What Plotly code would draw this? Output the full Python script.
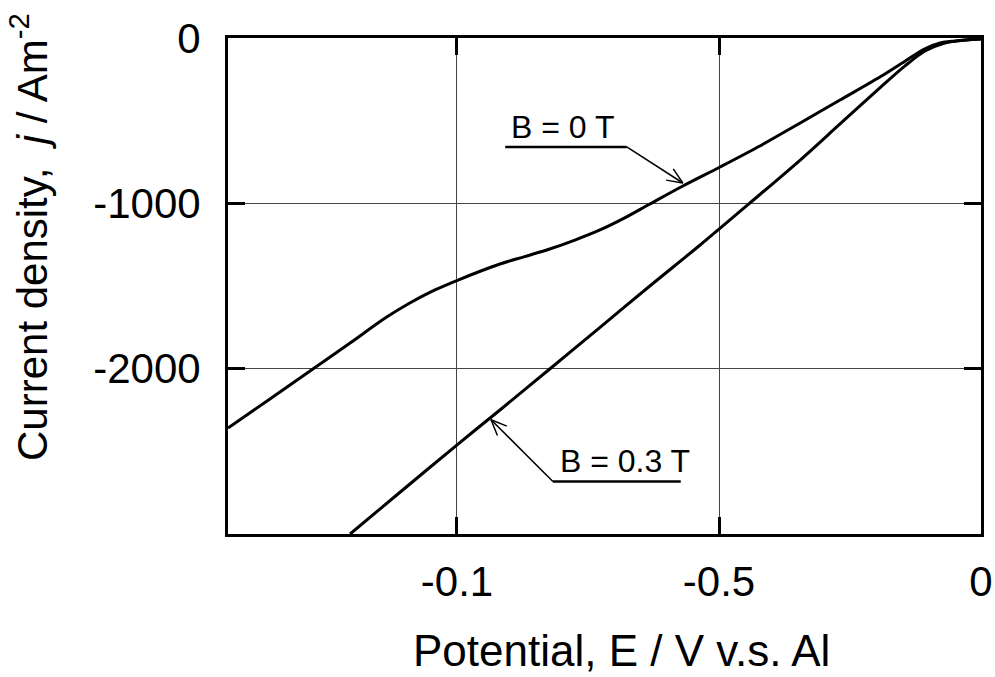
import numpy as np
import plotly.graph_objects as go

# Cathodic polarisation curves: potential (V vs Al) and current density (A m^-2)
potential_b0 = [-1.437, -1.357, -1.275, -1.204, -1.137, -1.090, -1.042, -0.998,
                -0.918, -0.871, -0.823, -0.775, -0.727, -0.680, -0.632, -0.569,
                -0.498, -0.422, -0.345, -0.269, -0.193, -0.145, -0.107, -0.078,
                -0.050, 0.0]
current_b0 = [-2359, -2183, -2002, -1845, -1694, -1603, -1524, -1464,
              -1367, -1322, -1276, -1222, -1161, -1088, -1004, -895,
              -780, -653, -514, -375, -236, -140, -65, -30,
              -18, -6]

potential_b03 = [-1.204, -1.115, -0.998, -0.918, -0.823, -0.727, -0.632, -0.536,
                 -0.441, -0.345, -0.269, -0.193, -0.145, -0.107, -0.069, -0.031,
                 0.0]
current_b03 = [-3000, -2764, -2456, -2250, -2002, -1750, -1500, -1252,
               -998, -738, -520, -302, -169, -79, -30, -12,
               -6]

series_names = ["B = 0 T", "B = 0.3 T"]

x_tick_vals = [-1.0, -0.5, 0.0]
x_tick_text = ["-0.1", "-0.5", "0"]
y_tick_vals = [0, -1000, -2000]
y_tick_text = ["0", "-1000", "-2000"]

x_range = [-1.437, 0.0]
y_range = [-3000, 0]

W, H = 995, 677
M_L, M_R, M_T, M_B = 228, 14, 38, 143
plot_w = W - M_L - M_R
plot_h = H - M_T - M_B
px_per_x = plot_w / (x_range[1] - x_range[0])
px_per_y = plot_h / (y_range[1] - y_range[0])

FONT = "Liberation Sans, Arial, sans-serif"

fig = go.Figure()
for xs, ys, name in [(potential_b0, current_b0, series_names[0]),
                     (potential_b03, current_b03, series_names[1])]:
    fig.add_trace(go.Scatter(x=xs, y=ys, mode="lines", name=name,
                             line=dict(color="black", width=3, shape="spline",
                                       smoothing=0.9),
                             showlegend=False, hoverinfo="x+y"))


def arrow_shapes(x0, y0, x1, y1, head_px=17, spread_deg=23):
    """Leader line from (x0, y0) to (x1, y1) with an open V head at the end."""
    shapes = [dict(type="line", xref="x", yref="y", x0=x0, y0=y0, x1=x1, y1=y1,
                   line=dict(color="black", width=1.5))]
    # direction in screen pixels (y grows downward on screen)
    dx = (x1 - x0) * px_per_x
    dy = -(y1 - y0) * px_per_y
    ang = np.arctan2(-dy, -dx)
    for s in (-1, 1):
        a = ang + s * np.radians(spread_deg)
        wx = x1 + head_px * np.cos(a) / px_per_x
        wy = y1 - head_px * np.sin(a) / px_per_y
        shapes.append(dict(type="line", xref="x", yref="y", x0=x1, y0=y1,
                           x1=wx, y1=wy, line=dict(color="black", width=1.5)))
    return shapes


shapes = []
annotations = []

# label for B = 0 T: underline, leader and arrow onto the curve
ul0 = (-0.908, -0.676, -659)
tip0_x = -0.569
tip0_y = float(np.interp(tip0_x, potential_b0, current_b0)) + 18
shapes.append(dict(type="line", xref="x", yref="y", x0=ul0[0], x1=ul0[1],
                   y0=ul0[2], y1=ul0[2], line=dict(color="black", width=2.5)))
shapes += arrow_shapes(ul0[1], ul0[2], tip0_x, tip0_y)
annotations.append(dict(x=-0.898, y=ul0[2] + 8, xref="x", yref="y",
                        text=series_names[0], showarrow=False, xanchor="left",
                        yanchor="bottom", borderpad=0,
                        font=dict(family=FONT, size=32, color="black")))

# label for B = 0.3 T
ul1 = (-0.817, -0.573, -2683)
tip1_x = -0.935
tip1_y = float(np.interp(tip1_x, potential_b03, current_b03)) - 15
shapes.append(dict(type="line", xref="x", yref="y", x0=ul1[0], x1=ul1[1],
                   y0=ul1[2], y1=ul1[2], line=dict(color="black", width=2.5)))
shapes += arrow_shapes(ul1[0], ul1[2], tip1_x, tip1_y)
annotations.append(dict(x=-0.806, y=ul1[2] + 8, xref="x", yref="y",
                        text=series_names[1], showarrow=False, xanchor="left",
                        yanchor="bottom", borderpad=0,
                        font=dict(family=FONT, size=32, color="black")))

# axis titles
annotations.append(dict(x=(621 - M_L) / plot_w, y=-(650 - (M_T + plot_h)) / plot_h,
                        xref="paper", yref="paper", showarrow=False,
                        text="Potential, E / V v.s. Al", xanchor="center",
                        yanchor="middle",
                        font=dict(family=FONT, size=44, color="black")))
annotations.append(dict(x=(29 - M_L) / plot_w, y=((M_T + plot_h) - 237) / plot_h,
                        xref="paper", yref="paper", showarrow=False,
                        text="Current density,  <i>j</i> / Am<sup>-2</sup>",
                        textangle=-90, xanchor="center", yanchor="middle",
                        font=dict(family=FONT, size=42, color="black")))

axis_common = dict(showline=True, linecolor="black", linewidth=3, mirror="ticks",
                   ticks="inside", ticklen=17, tickwidth=3, tickcolor="black",
                   showgrid=True, gridcolor="#444444", gridwidth=1,
                   zeroline=False, automargin=False,
                   tickfont=dict(family=FONT, size=42, color="black"))

fig.update_xaxes(range=x_range, tickmode="array", tickvals=x_tick_vals,
                 ticktext=x_tick_text, ticklabelstandoff=9, **axis_common)
fig.update_yaxes(range=y_range, tickmode="array", tickvals=y_tick_vals,
                 ticktext=y_tick_text, ticklabelstandoff=16, **axis_common)

fig.update_layout(width=W, height=H, margin=dict(l=M_L, r=M_R, t=M_T, b=M_B),
                  paper_bgcolor="white", plot_bgcolor="white",
                  shapes=shapes, annotations=annotations,
                  font=dict(family=FONT, color="black"))

fig.write_html("out.html")
